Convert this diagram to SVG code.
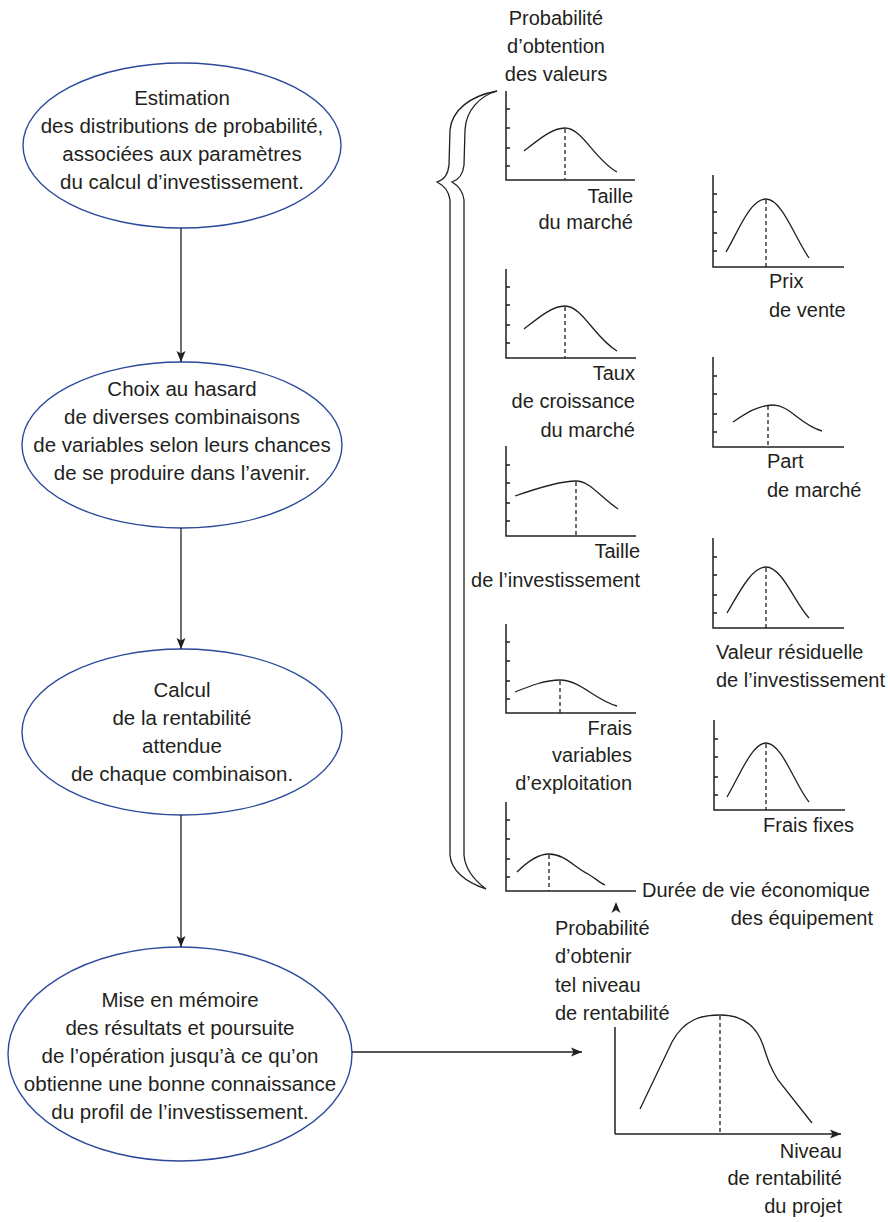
<svg xmlns="http://www.w3.org/2000/svg" width="890" height="1222" viewBox="0 0 890 1222">
<defs>
<style>
text{font-family:"Liberation Sans",Arial,sans-serif;fill:#231f20;}
.e text{font-size:20.5px;text-anchor:middle;}
.lbl{font-size:20px;}
.r{text-anchor:end;}
.m{text-anchor:middle;}
.ell{fill:none;stroke:#2c4a9c;stroke-width:1.4;}
.ax{fill:none;stroke:#231f20;stroke-width:1.5;}
.cv{fill:none;stroke:#231f20;stroke-width:1.3;}
.ds{fill:none;stroke:#231f20;stroke-width:1.3;stroke-dasharray:4 3;}
.cn{fill:none;stroke:#231f20;stroke-width:1.3;}
</style>
<marker id="ah" markerWidth="12" markerHeight="10" refX="11" refY="5" orient="auto" markerUnits="userSpaceOnUse">
<path d="M0,0.5 L11,5 L0,9.5 L2.5,5 Z" fill="#231f20"/>
</marker>
</defs>

<g id="n1" class="e">
<ellipse class="ell" cx="182" cy="145.5" rx="159" ry="82.5"/>
<text x="182" y="105">Estimation</text>
<text x="182" y="133">des distributions de probabilité,</text>
<text x="182" y="161">associées aux paramètres</text>
<text x="182" y="189">du calcul d’investissement.</text>
</g>

<g id="n2" class="e">
<ellipse class="ell" cx="182" cy="445" rx="160" ry="83"/>
<text x="182" y="396">Choix au hasard</text>
<text x="182" y="424">de diverses combinaisons</text>
<text x="182" y="452">de variables selon leurs chances</text>
<text x="182" y="480">de se produire dans l’avenir.</text>
</g>

<g id="n3" class="e">
<ellipse class="ell" cx="182" cy="732" rx="160" ry="83"/>
<text x="182" y="697">Calcul</text>
<text x="182" y="725">de la rentabilité</text>
<text x="182" y="753">attendue</text>
<text x="182" y="781">de chaque combinaison.</text>
</g>

<g id="n4" class="e">
<ellipse class="ell" cx="180" cy="1054" rx="172" ry="107"/>
<text x="180" y="1007">Mise en mémoire</text>
<text x="180" y="1035">des résultats et poursuite</text>
<text x="180" y="1063">de l’opération jusqu’à ce qu’on</text>
<text x="180" y="1091">obtienne une bonne connaissance</text>
<text x="180" y="1119">du profil de l’investissement.</text>
</g>

<g id="connectors">
<line class="cn" x1="181" y1="228" x2="181" y2="362" marker-end="url(#ah)"/>
<line class="cn" x1="181" y1="528" x2="181" y2="649" marker-end="url(#ah)"/>
<line class="cn" x1="181" y1="815" x2="181" y2="947" marker-end="url(#ah)"/>
<line class="cn" x1="352" y1="1052" x2="582" y2="1052" marker-end="url(#ah)"/>
<path d="M616,902 L611.5,913 L616,910 L620.5,913 Z" fill="#231f20"/>
</g>

<g id="brace">
<path class="cv" d="M497,91 C470,96 452,110 450,130 L449,165 C448,175 444,180 437,182 C445,186 449,192 450,200 L450,855 C451,870 465,882 486,889"/>
<path class="cv" d="M497,91 C480,96 466,110 465,130 L464,165 C463,175 458,180 452,182 C459,186 463,192 464,200 L464,855 C465,868 474,880 486,889"/>
</g>

<g id="title">
<text class="lbl m" x="556" y="25">Probabilité</text>
<text class="lbl m" x="556" y="53">d’obtention</text>
<text class="lbl m" x="556" y="81">des valeurs</text>
</g>

<g id="c1">
<path class="ax" d="M506,91 V180 H635 M506,109 h4 M506,128 h4 M506,148 h4 M506,166 h4"/>
<path class="cv" d="M524,151 C538,140 552,128 565,128 C582,128 595,160 617,172"/>
<line class="ds" x1="565" y1="129" x2="565" y2="180"/>
<text class="lbl r" x="633" y="203">Taille</text>
<text class="lbl r" x="633" y="229">du marché</text>
</g>

<g id="c2">
<path class="ax" d="M713,175 V267 H844 M713,194 h4 M713,212 h4 M713,233 h4 M713,251 h4"/>
<path class="cv" d="M726,252 C738,232 750,199 766,199 C782,199 795,238 809,258"/>
<line class="ds" x1="766" y1="200" x2="766" y2="267"/>
<text class="lbl" x="769" y="288">Prix</text>
<text class="lbl" x="769" y="317">de vente</text>
</g>

<g id="c3">
<path class="ax" d="M506,269 V358 H636 M506,287 h4 M506,305 h4 M506,325 h4 M506,343 h4"/>
<path class="cv" d="M524,329 C538,318 552,306 565,306 C582,306 595,338 617,351"/>
<line class="ds" x1="565" y1="307" x2="565" y2="358"/>
<text class="lbl r" x="635" y="380">Taux</text>
<text class="lbl r" x="635" y="408">de croissance</text>
<text class="lbl r" x="635" y="437">du marché</text>
</g>

<g id="c4">
<path class="ax" d="M713,357 V447 H844 M713,376 h4 M713,394 h4 M713,414 h4 M713,432 h4"/>
<path class="cv" d="M733,422 C745,414 758,405 773,405 C790,405 800,425 822,431"/>
<line class="ds" x1="768" y1="406" x2="768" y2="447"/>
<text class="lbl" x="767" y="468">Part</text>
<text class="lbl" x="767" y="497">de marché</text>
</g>

<g id="c5">
<path class="ax" d="M506,446 V536 H636 M506,465 h4 M506,483 h4 M506,503 h4 M506,521 h4"/>
<path class="cv" d="M515,496 C535,489 560,481 576,481 C590,481 600,497 618,509"/>
<line class="ds" x1="576" y1="482" x2="576" y2="536"/>
<text class="lbl r" x="640" y="558">Taille</text>
<text class="lbl r" x="640" y="587">de l’investissement</text>
</g>

<g id="c6">
<path class="ax" d="M713,538 V628 H844 M713,557 h4 M713,575 h4 M713,595 h4 M713,613 h4"/>
<path class="cv" d="M727,613 C740,591 752,567 766,567 C782,567 795,603 809,618"/>
<line class="ds" x1="766" y1="568" x2="766" y2="628"/>
<text class="lbl" x="716" y="659">Valeur résiduelle</text>
<text class="lbl" x="716" y="687">de l’investissement</text>
</g>

<g id="c7">
<path class="ax" d="M506,624 V713 H636 M506,642 h4 M506,661 h4 M506,681 h4 M506,699 h4"/>
<path class="cv" d="M515,692 C530,686 545,680 560,680 C580,680 595,700 617,706"/>
<line class="ds" x1="560" y1="681" x2="560" y2="713"/>
<text class="lbl r" x="632" y="735">Frais</text>
<text class="lbl r" x="632" y="762">variables</text>
<text class="lbl r" x="632" y="790">d’exploitation</text>
</g>

<g id="c8">
<path class="ax" d="M714,720 V810 H845 M714,739 h4 M714,757 h4 M714,777 h4 M714,795 h4"/>
<path class="cv" d="M727,797 C740,775 752,743 766,743 C782,743 795,785 809,802"/>
<line class="ds" x1="766" y1="744" x2="766" y2="810"/>
<text class="lbl" x="763" y="832">Frais fixes</text>
</g>

<g id="c9">
<path class="ax" d="M506,802 V891 H636 M506,820 h4 M506,839 h4 M506,859 h4 M506,877 h4"/>
<path class="cv" d="M517,872 C527,862 538,854 549,854 C565,854 575,868 588,874 C595,878 600,883 605,885"/>
<line class="ds" x1="549" y1="855" x2="549" y2="891"/>
<text class="lbl" x="642" y="897">Durée de vie économique</text>
<text class="lbl r" x="873" y="925">des équipement</text>
</g>

<g id="result">
<text class="lbl" x="555" y="935">Probabilité</text>
<text class="lbl" x="555" y="963">d’obtenir</text>
<text class="lbl" x="555" y="992">tel niveau</text>
<text class="lbl" x="555" y="1020">de rentabilité</text>
<line class="ax" x1="615" y1="1027" x2="615" y2="1134"/>
<line class="ax" x1="615" y1="1134" x2="841" y2="1134" marker-end="url(#ah)"/>
<path class="cv" d="M640,1109 L672,1042 C684,1020 700,1015 720,1015 C742,1015 756,1025 763,1045 C768,1060 770,1067 778,1080 L812,1123"/>
<line class="ds" x1="720" y1="1016" x2="720" y2="1134"/>
<text class="lbl r" x="842" y="1158">Niveau</text>
<text class="lbl r" x="842" y="1185">de rentabilité</text>
<text class="lbl r" x="842" y="1213">du projet</text>
</g>
</svg>
